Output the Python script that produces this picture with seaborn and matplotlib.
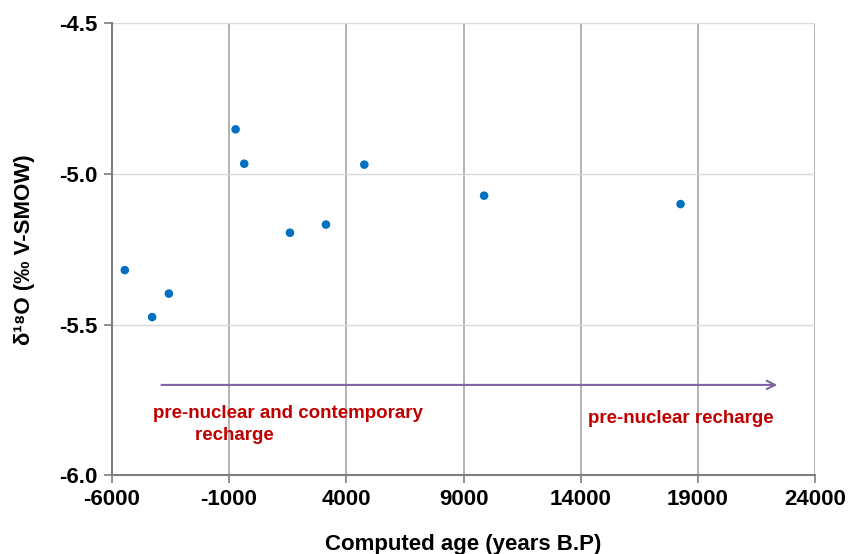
import matplotlib
matplotlib.use("Agg")
import matplotlib.pyplot as plt
import seaborn as sns
import pandas as pd

# Data
age_years = [-5445, -4280, -3567, -721, -353, 1597, 3133, 4768, 9877, 18255]
delta18O = [-5.319, -5.475, -5.397, -4.852, -4.966, -5.195, -5.168, -4.969, -5.072, -5.100]
x_ticks = [-6000, -1000, 4000, 9000, 14000, 19000, 24000]
y_ticks = [-6.0, -5.5, -5.0, -4.5]
arrow_x = [-4000, 22500]
arrow_y = -5.7

df = pd.DataFrame({"age": age_years, "d18O": delta18O})

sns.set_style("white")
plt.rcParams["font.family"] = ["Liberation Sans", "DejaVu Sans"]
plt.rcParams["text.color"] = "black"
plt.rcParams["axes.labelcolor"] = "black"
plt.rcParams["xtick.color"] = "black"
plt.rcParams["ytick.color"] = "black"

fig = plt.figure(figsize=(8.6, 5.54), dpi=100)
ax = fig.add_axes([0.130, 0.142, 0.818, 0.816])

sns.scatterplot(data=df, x="age", y="d18O", ax=ax, color="#0070C0",
                s=38, edgecolor="none", zorder=3)

ax.set_xlim(-6000, 24000)
ax.set_ylim(-6.0, -4.5)
ax.set_xticks(x_ticks)
ax.set_yticks(y_ticks)
ax.set_xticklabels([str(v) for v in x_ticks], fontsize=16, fontweight="bold")
ax.set_yticklabels([f"{v:.1f}" for v in y_ticks], fontsize=16, fontweight="bold")

for v in x_ticks[1:]:
    ax.axvline(v, color="#a6a6a6", lw=1.2, zorder=1)
for v in y_ticks[1:]:
    ax.axhline(v, color="#d9d9d9", lw=1.0, zorder=1)

for s in ["top", "right"]:
    ax.spines[s].set_visible(False)
for s in ["left", "bottom"]:
    ax.spines[s].set_color("#7f7f7f")
    ax.spines[s].set_linewidth(1.5)
ax.tick_params(axis="both", direction="out", length=6, width=1.2,
               color="#7f7f7f", labelcolor="black", pad=4, bottom=True, left=True)

ax.set_xlabel("Computed age (years B.P)", fontsize=16, fontweight="bold", labelpad=17)
ax.set_ylabel("δ¹⁸O (‰ V-SMOW)", fontsize=16, fontweight="bold", labelpad=18)

ax.annotate("", xy=(arrow_x[1], arrow_y), xytext=(arrow_x[0], arrow_y),
            arrowprops=dict(arrowstyle="->", color="#8064A2", lw=1.5,
                            mutation_scale=15), zorder=4)

ax.text(-4250, -5.832, "pre-nuclear and contemporary\n        recharge",
        color="#C00000", fontsize=13.5, fontweight="bold", ha="left", va="center",
        linespacing=1.35)
ax.text(14300, -5.81, "pre-nuclear recharge", color="#C00000", fontsize=13.5,
        fontweight="bold", ha="left", va="center")

fig.savefig("out.png", dpi=100)
